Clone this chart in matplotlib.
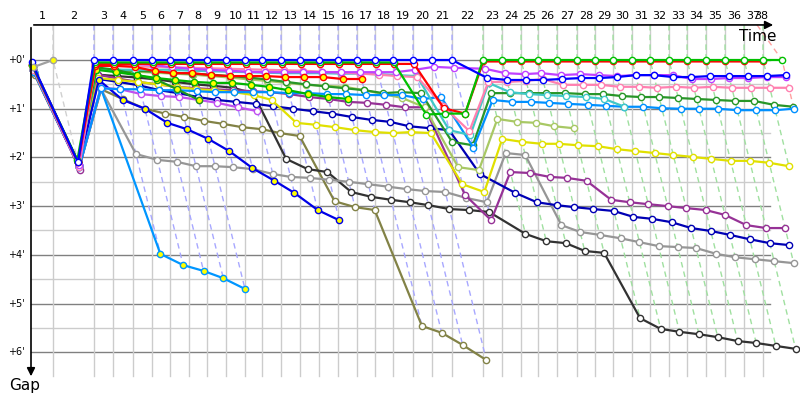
import numpy as np
import matplotlib
matplotlib.use("Agg")
import matplotlib.pyplot as plt

# temps du leader a chaque pointage (minutes depuis le premier pointage)
leader_time = [0.00, 1.85, 5.29, 6.89, 8.57, 10.17, 11.68, 13.28, 14.79, 16.39,
               17.98, 19.41, 21.01, 22.61, 24.20, 25.80, 27.39, 28.91, 30.42, 32.10,
               33.70, 35.38, 37.98, 39.58, 41.18, 42.61, 44.20, 45.88, 47.39, 48.91,
               50.50, 52.02, 53.61, 55.13, 56.72, 58.32, 59.92, 61.51, 63.11]
lap_labels = [str(i) for i in range(1, 39)]
gap_ticks = [0, 1, 2, 3, 4, 5, 6]
gap_labels = ["+0'", "+1'", "+2'", "+3'", "+4'", "+5'", "+6'"]

# ecarts au leader (minutes) pour chaque pilote, pointage 0 -> fin
pace = [0.15, 0.0]
blue_top = [0.05, 2.1, 0, 0, 0, 0, 0, 0, 0, 0, 0, 0, 0, 0, 0, 0, 0, 0, 0, 0, 0, 0,
            0.37, 0.41, 0.41, 0.41, 0.39, 0.37, 0.37, 0.35, 0.31, 0.31, 0.35, 0.35,
            0.33, 0.33, 0.33, 0.33, 0.31]
green = [0.1, 2.05, 0.05, 0.05, 0.05, 0.05, 0.05, 0.05, 0.05, 0.05, 0.05, 0.05, 0.05,
         0.05, 0.05, 0.05, 0.05, 0.05, 0.05, 1.12, 1.1, 1.1,
         0, 0, 0, 0, 0, 0, 0, 0, 0, 0, 0, 0, 0, 0, 0, 0, 0]
red = [0.1, 2.1, 0.08, 0.08, 0.08, 0.08, 0.08, 0.08, 0.08, 0.08, 0.08, 0.08, 0.08,
       0.08, 0.08, 0.08, 0.08, 0.08, 0.08, 0.08, 0.99, 1.1,
       0.03, 0.03, 0.03, 0.03, 0.03, 0.03, 0.03, 0.03, 0.03, 0.03, 0.03, 0.03, 0.03,
       0.03, 0.03, 0.03]
violet = [0.15, 2.15, 0.08, 0.08, 0.08, 0.1, 0.15, 0.18, 0.2, 0.22, 0.24,
          0.25, 0.25, 0.25, 0.25, 0.25, 0.25, 0.25, 0.25,
          0.2, 0.14, 0.16, 0.18, 0.27, 0.29, 0.27, 0.31, 0.29, 0.31, 0.33, 0.31,
          0.31, 0.31, 0.39, 0.39, 0.37, 0.37, 0.35, 0.35]
pink = [0.2, 2.2, 0.12, 0.12, 0.13, 0.14, 0.15, 0.16, 0.17, 0.18, 0.19, 0.2, 0.21,
        0.22, 0.24, 0.26, 0.28, 0.3, 0.33,
        0.35, 0.95, 1.46, 0.45, 0.45, 0.43, 0.39, 0.51, 0.51, 0.51, 0.55, 0.55,
        0.57, 0.55, 0.57, 0.55, 0.57, 0.57, 0.57, 0.57]
cyan = [0.2, 2.15, 0.2, 0.2, 0.2, 0.2, 0.2, 0.22, 0.23, 0.24, 0.25, 0.26, 0.27,
        0.27, 0.27, 0.28, 0.28, 0.29, 0.31,
        0.33, 1.44, 1.54, 0.47, 0.66, 0.7, 0.72, 0.74, 0.76, 0.8, 0.96]
azure = [0.25, 2.2, 0.58, 0.6, 0.6, 0.62, 0.62, 0.64, 0.66, 0.66, 0.66, 0.66,
         0.68, 0.68, 0.7, 0.7, 0.72, 0.72, 0.72,
         0.8, 0.76, 1.8, 0.82, 0.86, 0.86, 0.88, 0.9, 0.92, 0.94, 0.96, 0.96, 0.99,
         1.0, 1.0, 1.0, 1.03, 1.03, 1.03, 1.0]
dark_green = [0.2, 2.1, 0.18, 0.2, 0.22, 0.24, 0.26, 0.28, 0.3, 0.33, 0.36, 0.4,
              0.45, 0.5, 0.54, 0.58, 0.62, 0.68, 0.66,
              0.68, 1.68, 1.75, 0.68, 0.68, 0.68, 0.68, 0.68, 0.7, 0.7, 0.74, 0.76,
              0.76, 0.78, 0.8, 0.82, 0.84, 0.84, 0.92, 0.96]
yellow_green = [0.2, 2.1, 0.2, 0.22, 0.24, 0.26, 0.28, 0.3, 0.33, 0.36, 0.4, 0.43,
                0.47, 0.51, 0.53, 0.55, 0.62, 0.7, 0.78,
                0.97, 2.2, 2.26, 1.21, 1.27, 1.29, 1.36, 1.4]
yellow = [0.15, 2.1, 0.37, 0.41, 0.45, 0.5, 0.55, 0.6, 0.62, 0.66, 0.72, 0.82,
          1.29, 1.33, 1.38, 1.44, 1.48, 1.5, 1.48,
          1.5, 2.55, 2.71, 1.62, 1.68, 1.72, 1.72, 1.75, 1.77, 1.83, 1.87, 1.91,
          1.95, 1.99, 2.03, 2.07, 2.07, 2.11, 2.18]
navy = [0.2, 2.15, 0.39, 0.45, 0.52, 0.62, 0.68, 0.76, 0.82, 0.86, 0.9, 0.95, 1.0,
        1.05, 1.1, 1.17, 1.23, 1.27, 1.36,
        1.4, 1.44, 2.34, 2.73, 2.92, 2.98, 3.02, 3.06, 3.1, 3.22, 3.26, 3.33, 3.45,
        3.51, 3.59, 3.68, 3.76, 3.8]
purple = [0.2, 2.25, 0.3, 0.38, 0.45, 0.5, 0.55, 0.58, 0.6, 0.62, 0.64, 0.66, 0.7,
          0.76, 0.8, 0.86, 0.88, 0.92, 0.97,
          0.97, 2.77, 3.29, 2.3, 2.32, 2.4, 2.42, 2.48, 2.87, 2.92, 2.96, 3.0, 3.04,
          3.08, 3.18, 3.39, 3.45, 3.45]
gray = [0.25, 2.2, 0.6, 1.93, 2.05, 2.09, 2.18, 2.18, 2.2, 2.24, 2.34, 2.4, 2.42,
        2.46, 2.5, 2.55, 2.6, 2.65, 2.69,
        2.71, 2.83, 2.92, 1.91, 1.95, 3.39, 3.53, 3.59, 3.66, 3.74, 3.82, 3.84,
        3.86, 3.98, 4.05, 4.09, 4.13, 4.17]
black = [0.25, 2.2, 0.3, 0.33, 0.36, 0.4, 0.45, 0.5, 0.53, 0.57, 0.68,
         2.03, 2.24, 2.3, 2.71, 2.81, 2.87, 2.92, 2.98,
         3.06, 3.08, 3.12, 3.57, 3.72, 3.76, 3.92, 3.96, 5.3, 5.52, 5.58, 5.63,
         5.69, 5.77, 5.81, 5.87, 5.93]
olive = [0.3, 2.2, 0.6, 0.8, 1.0, 1.1, 1.17, 1.25, 1.31, 1.38, 1.42, 1.5, 1.56,
         2.9, 3.02, 3.08, 5.46, 5.6, 5.85, 6.16]
blue_y = [0.2, 2.15, 0.41, 0.82, 1.0, 1.29, 1.42, 1.62, 1.87, 2.22, 2.48, 2.73,
          3.08, 3.29]
azure_y = [0.25, 2.2, 0.58, 3.98, 4.21, 4.33, 4.48, 4.7]
red_y = [0.1, 2.1, 0.12, 0.12, 0.14, 0.23, 0.27, 0.27, 0.31, 0.33, 0.33, 0.33,
         0.35, 0.35, 0.35, 0.39, 0.39]
green_y = [0.15, 2.1, 0.2, 0.25, 0.31, 0.37, 0.41, 0.45, 0.47, 0.47, 0.51, 0.55,
           0.62, 0.7, 0.76, 0.8]
green_y2 = [0.15, 2.1, 0.15, 0.2, 0.3, 0.41, 0.6, 0.82]
violet2 = [0.2, 2.2, 0.57, 0.6, 0.7, 0.74, 0.76, 0.82, 0.88, 0.97, 1.05]

riders = [
    (olive, '#828246', 'white'),
    (black, '#323232', 'white'),
    (gray, '#969696', 'white'),
    (purple, '#963296', 'white'),
    (navy, '#0000b4', 'white'),
    (yellow, '#e0e000', 'white'),
    (yellow_green, '#a8c864', 'white'),
    (azure_y, '#0096ff', 'yellow'),
    (blue_y, '#0000e6', 'yellow'),
    (violet2, '#c050f0', 'white'),
    (dark_green, '#289628', 'white'),
    (azure, '#0090ff', 'white'),
    (cyan, '#40c8c8', 'white'),
    (green_y2, '#1e961e', 'yellow'),
    (green_y, '#00b400', 'yellow'),
    (pink, '#ff80b0', 'white'),
    (violet, '#c040ff', 'white'),
    (red_y, '#ff0000', 'yellow'),
    (red, '#ff0000', 'white'),
    (green, '#00c000', 'white'),
    (blue_top, '#0000ff', 'white'),
    (pace, '#a0a0a0', 'yellow'),
]

plt.rcParams['font.family'] = ['DejaVu Sans']
fig = plt.figure(figsize=(8, 4), dpi=100)
ax = fig.add_axes([0, 0, 1, 1])
ax.set_xlim(-2.605, 64.62)
ax.set_ylim(6.98, -1.232)
ax.set_axis_off()

t = np.array(leader_time)
n = len(t)
g_top = -0.72
g_bot = 6.49
x_end = 62.1

# grille
for g in np.arange(0.5, 6, 1.0):
    ax.plot([0, x_end], [g, g], color='#cccccc', lw=1, zorder=1)
for g in gap_ticks:
    ax.plot([0, x_end], [g, g], color='#808080', lw=1, zorder=1)
for k in range(1, n - 1):
    ax.plot([t[k], t[k]], [g_top, g_bot], color='#cccccc', lw=1, zorder=1)

# tableau des ecarts
gaps = np.full((len(riders), n), np.nan)
for i, r in enumerate(riders):
    gaps[i, :len(r[0])] = r[0]

# lignes de pointage (pointilles)
for k in range(1, n):
    gmax = np.nanmax(gaps[:, k])
    x_top = t[k]
    if k == 1:
        c = '#d0d0d0'
    elif k <= 21:
        c = '#a8a8ff'
    elif k < n - 1:
        c = '#a0e0a0'
    else:
        c = '#ffa0a0'
        x_top = t[k - 1] - 0.5   # derniere ligne partie en biais depuis le haut
    ax.plot([x_top, t[k], t[k] + gmax], [g_top, 0, gmax], color=c, lw=1,
            ls=(0, (4, 3)), zorder=2)

# pilotes
for i, r in enumerate(riders):
    g = gaps[i]
    ax.plot(t + g, g, '-o', color=r[1], lw=1.6, ms=4.5, mfc=r[2], mec=r[1],
            mew=1, zorder=3 + i * 0.01)

# axes
ax.annotate('', xy=(62.6, g_top), xytext=(0, g_top),
            arrowprops=dict(arrowstyle='-|>', color='black', lw=1.2,
                            mutation_scale=12), zorder=10)
ax.annotate('', xy=(0, 6.55), xytext=(0, g_top),
            arrowprops=dict(arrowstyle='-|>', color='black', lw=1.2,
                            mutation_scale=12), zorder=10)
ax.text(61.1, -0.49, 'Time', fontsize=11, ha='center', va='center')
ax.text(-0.5, 6.68, 'Gap', fontsize=11, ha='center', va='center')

for g, lab in zip(gap_ticks, gap_labels):
    ax.text(-1.26, g, lab, fontsize=7, ha='center', va='center')
for k in range(1, n):
    mid = min((t[k - 1] + t[k]) / 2, 61.4)
    ax.text(mid, -0.9, lap_labels[k - 1], fontsize=8, ha='center', va='center')

fig.savefig('out.png', dpi=100)
